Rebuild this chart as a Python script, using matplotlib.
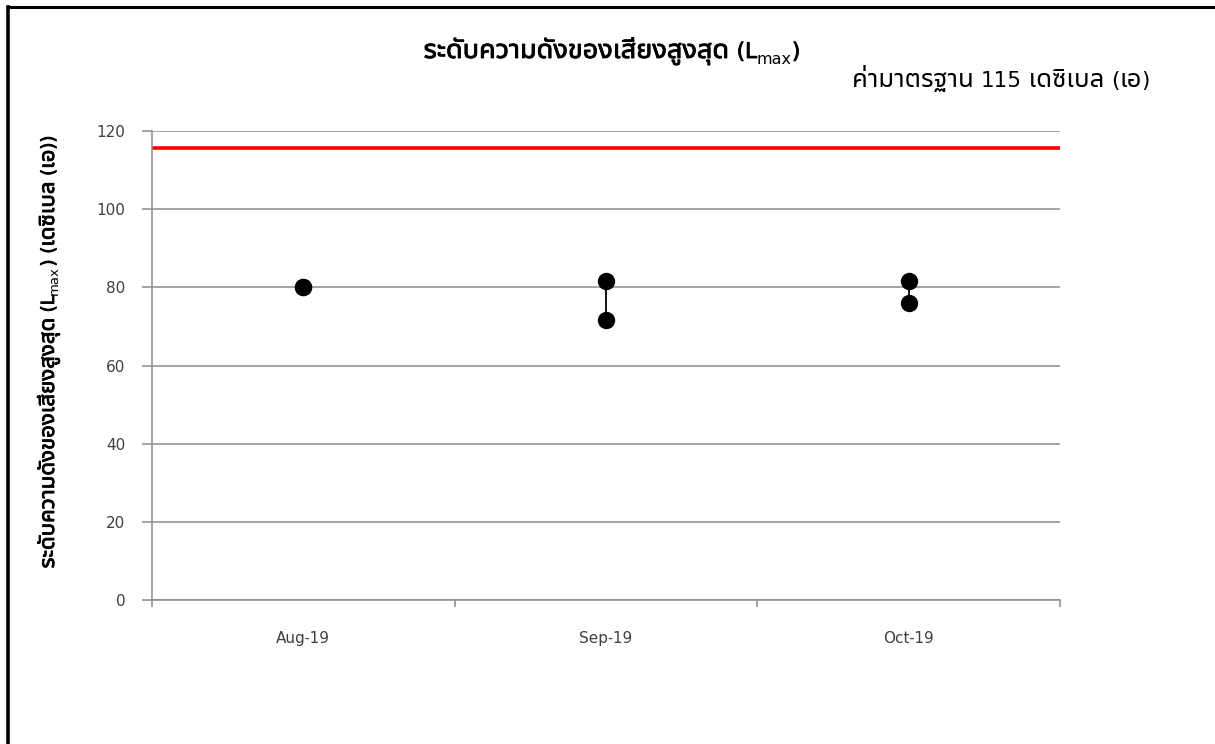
import matplotlib
matplotlib.use("Agg")
import matplotlib.pyplot as plt
from matplotlib import font_manager as fm
from matplotlib.ft2font import FT2Font
from matplotlib.lines import Line2D
import matplotlib.patheffects as pe

# ---------------- data ----------------
categories = ["Aug-19", "Sep-19", "Oct-19"]
lmax_high = [80.0, 81.5, 81.5]
lmax_low = [80.0, 71.7, 75.9]
standard_value = 115.7
y_ticks = [0, 20, 40, 60, 80, 100, 120]
title_thai = "ระดับความดังของเสียงสูงสุด "
ylabel_thai = "ระดับความดังของเสียงสูงสุด "
ylabel_unit = "เดซิเบล"
ylabel_unit2 = "เอ"
std_thai1 = "ค่ามาตรฐาน "
std_value = "115"
std_thai2 = " เดซิเบล "
std_thai3 = "เอ"

# ---------------- find a Thai font ----------------
def find_thai():
    cands = []
    for f in fm.fontManager.ttflist:
        try:
            cm = FT2Font(f.fname).get_charmap()
        except Exception:
            continue
        if 0x0E01 in cm and 0x0E2A in cm:
            cands.append(f)
    if not cands:
        return None
    def score(f):
        s = 0
        if f.style == "normal":
            s += 5
        n = f.name.lower()
        if "looped" in n:
            s -= 3
        if "noto sans thai" in n:
            s += 2
        return s
    cands.sort(key=score, reverse=True)
    return cands[0].name

thai = find_thai() or "DejaVu Sans"
fam = [thai, "DejaVu Sans"]
lat = ["DejaVu Sans"]
plt.rcParams["font.family"] = fam

W, H = 1215, 744
fig = plt.figure(figsize=(W / 100, H / 100), dpi=100)

def fx(px):
    return px / W

def fy(py):
    return 1 - py / H

# outer frame (top and left edges visible)
fig.add_artist(Line2D([fx(8), fx(1215)], [fy(7), fy(7)], color="black", lw=2.2, transform=fig.transFigure))
fig.add_artist(Line2D([fx(8), fx(8)], [fy(7), fy(744)], color="black", lw=2.6, transform=fig.transFigure))

ax = fig.add_axes([fx(152), fy(600), fx(1060) - fx(152), fy(131) - fy(600)])
ax.set_xlim(0, 3)
ax.set_ylim(0, 120)

grid_c = "#8c8c8c"
for v in y_ticks:
    ax.axhline(v, color=grid_c, lw=1.1, zorder=1)

xs = [i + 0.5 for i in range(len(categories))]
ax.axhline(standard_value, color="#ff0000", lw=2.6, zorder=2)
ax.vlines(xs, lmax_low, lmax_high, color="black", lw=1.3, zorder=3)
ax.plot(xs, lmax_high, "o", color="black", ms=11.5, zorder=4, ls="none")
ax.plot(xs, lmax_low, "o", color="black", ms=11.5, zorder=4, ls="none")

for s in ["top", "right"]:
    ax.spines[s].set_visible(False)
for s in ["left", "bottom"]:
    ax.spines[s].set_color(grid_c)
    ax.spines[s].set_linewidth(1.1)

ax.set_yticks(y_ticks)
ax.set_yticklabels([str(v) for v in y_ticks], fontsize=11, color="#404040")
ax.set_xticks([0, 1, 2, 3])
ax.set_xticklabels([])
ax.set_xticks(xs, minor=True)
ax.set_xticklabels(categories, minor=True, fontsize=11, color="#404040")
ax.tick_params(axis="x", which="minor", length=0, pad=22)
ax.tick_params(axis="x", which="major", length=5, color=grid_c, width=1.1, direction="out")
ax.tick_params(axis="y", length=7, color=grid_c, width=1.1, pad=12)

# ---------------- rich text helper ----------------
fig.canvas.draw()
renderer = fig.canvas.get_renderer()
bold_fx = [pe.withStroke(linewidth=0.6, foreground="black")]

def rich(pieces, cx, cy, vertical=False, align="center", color="black"):
    # pieces: list of (text, size, weight, shift_px, family, fakebold)
    widths = []
    for t, sz, wt, sh, fa, fb in pieces:
        tt = fig.text(0, 0, t, fontsize=sz, fontweight=wt, family=fa)
        widths.append(tt.get_window_extent(renderer).width)
        tt.remove()
    total = sum(widths)
    pos = -total / 2 if align == "center" else (-total if align == "right" else 0)
    for (t, sz, wt, sh, fa, fb), w in zip(pieces, widths):
        kw = dict(fontsize=sz, fontweight=wt, family=fa, ha="left", va="baseline", color=color)
        if fb:
            kw["path_effects"] = bold_fx
        if not vertical:
            px, py = cx + pos, cy - sh
            fig.text(fx(px), fy(py), t, **kw)
        else:
            px, py = cx - sh, cy - pos
            fig.text(fx(px), fy(py), t, rotation=90, rotation_mode="anchor", **kw)
        pos += w

rich([(title_thai, 19.5, "normal", 0, fam, True),
      ("(L", 15.5, "normal", 0, lat, True),
      ("max", 11.5, "normal", -6, lat, False),
      (")", 15.5, "normal", 0, lat, True)],
     612, 58)

rich([(ylabel_thai, 16, "normal", 0, fam, True),
      ("(L", 13, "normal", 0, lat, True),
      ("max", 9.5, "normal", -4, lat, False),
      (") (", 13, "normal", 0, lat, True),
      (ylabel_unit, 16, "normal", 0, fam, True),
      (" (", 13, "normal", 0, lat, True),
      (ylabel_unit2, 16, "normal", 0, fam, True),
      ("))", 13, "normal", 0, lat, True)],
     54, 352, vertical=True)

rich([(std_thai1, 18.5, "normal", 0, fam, False),
      (std_value, 15.5, "normal", 0, lat, False),
      (std_thai2, 18.5, "normal", 0, fam, False),
      ("(", 15.5, "normal", 0, lat, False),
      (std_thai3, 18.5, "normal", 0, fam, False),
      (")", 15.5, "normal", 0, lat, False)],
     1150, 87, align="right")

fig.savefig("out.png", dpi=100)
